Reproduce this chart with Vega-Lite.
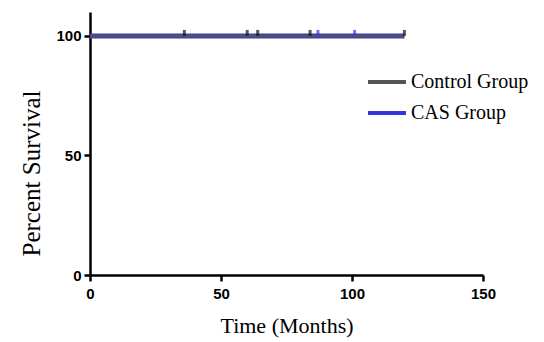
{
  "$schema": "https://vega.github.io/schema/vega-lite/v6.json",
  "width": 393,
  "height": 263,
  "autosize": "none",
  "padding": {"left": 90, "top": 12, "right": 61, "bottom": 67},
  "background": "white",
  "config": {
    "view": {"stroke": null},
    "axis": {
      "grid": false,
      "domainColor": "black",
      "domainWidth": 2.5,
      "tickColor": "black",
      "tickWidth": 2.5,
      "tickSize": 6,
      "labelFont": "Liberation Sans",
      "labelFontWeight": "bold",
      "labelFontSize": 15,
      "labelColor": "black",
      "labelFlush": false,
      "titleFont": "Liberation Serif",
      "titleFontWeight": "normal",
      "titleColor": "black"
    }
  },
  "datasets": {
    "curves": [
      {"group": "CAS Group", "time": 0, "survival": 100},
      {"group": "CAS Group", "time": 120, "survival": 100},
      {"group": "Control Group", "time": 0, "survival": 100},
      {"group": "Control Group", "time": 120, "survival": 100}
    ],
    "censored": [
      {"group": "Control Group", "time": 36, "survival": 100},
      {"group": "Control Group", "time": 60, "survival": 100},
      {"group": "Control Group", "time": 64, "survival": 100},
      {"group": "Control Group", "time": 84, "survival": 100},
      {"group": "Control Group", "time": 120, "survival": 100},
      {"group": "CAS Group", "time": 87, "survival": 100},
      {"group": "CAS Group", "time": 101, "survival": 100}
    ]
  },
  "layer": [
    {
      "data": {"name": "curves"},
      "mark": {"type": "line"},
      "encoding": {
        "x": {
          "field": "time", "type": "quantitative",
          "scale": {"domain": [0, 150], "nice": false, "padding": 0},
          "axis": {"values": [0, 50, 100, 150], "title": "Time (Months)", "titleFontSize": 22, "labelPadding": 5, "titleY": 57, "titleBaseline": "alphabetic"}
        },
        "y": {
          "field": "survival", "type": "quantitative",
          "scale": {"domain": [0, 110], "nice": false, "padding": 0},
          "axis": {"values": [0, 50, 100], "title": "Percent Survival", "titleFontSize": 25, "labelPadding": 3, "titleX": -51, "titleY": 161, "titleBaseline": "alphabetic"}
        },
        "color": {
          "field": "group", "type": "nominal",
          "scale": {"domain": ["Control Group", "CAS Group"], "range": ["#555555", "#3434e0"]},
          "legend": {
            "title": null, "orient": "none", "legendX": 276, "legendY": 49,
            "symbolType": "stroke", "symbolSize": 1444, "symbolStrokeWidth": 4,
            "labelFont": "Liberation Serif", "labelFontSize": 20, "labelColor": "black",
            "labelOffset": 3, "rowPadding": -12, "padding": 0
          }
        },
        "strokeWidth": {
          "field": "group", "type": "nominal",
          "scale": {"domain": ["Control Group", "CAS Group"], "range": [3, 5]},
          "legend": null
        },
        "order": {"field": "group", "sort": "ascending"}
      }
    },
    {
      "data": {"name": "censored"},
      "mark": {"type": "tick", "orient": "vertical", "size": 6, "thickness": 3, "yOffset": -3},
      "encoding": {
        "x": {"field": "time", "type": "quantitative"},
        "y": {"field": "survival", "type": "quantitative"},
        "color": {
          "field": "group", "type": "nominal",
          "scale": {"domain": ["Control Group", "CAS Group"], "range": ["#111111", "#3434e0"]},
          "legend": null
        }
      }
    }
  ],
  "resolve": {"scale": {"color": "independent"}}
}
